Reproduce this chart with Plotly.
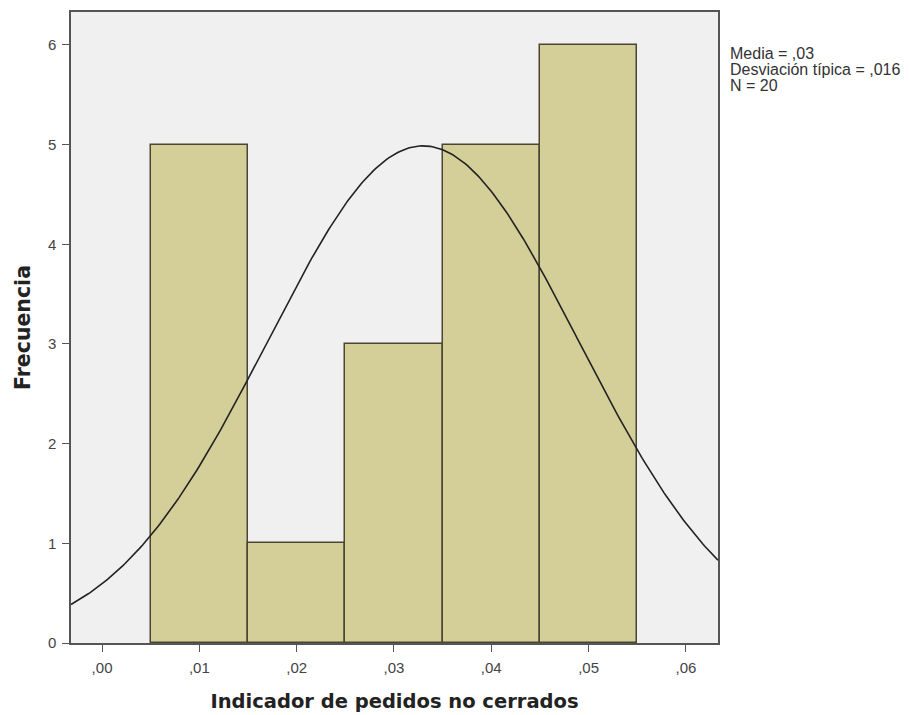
import numpy as np
import plotly.graph_objects as go

bin_centers = [0.01, 0.02, 0.03, 0.04, 0.05]
counts = [5, 1, 3, 5, 6]
bin_width = 0.01
mean = 0.033
sd = 0.016
n = 20
x_ticks = [0.00, 0.01, 0.02, 0.03, 0.04, 0.05, 0.06]
x_tick_labels = [",00", ",01", ",02", ",03", ",04", ",05", ",06"]
y_ticks = [0, 1, 2, 3, 4, 5, 6]
stats_lines = ["Media = ,03", "Desviación típica = ,016", "N = 20"]

xr = [-0.00319, 0.0633]
xs = np.linspace(xr[0], xr[1], 300)
ys = n * bin_width / (sd * np.sqrt(2 * np.pi)) * np.exp(-0.5 * ((xs - mean) / sd) ** 2)

fig = go.Figure()
fig.add_trace(go.Bar(x=bin_centers, y=counts, width=[bin_width] * len(counts),
                     marker=dict(color="#d4cf99", line=dict(color="#4a4632", width=1.5)),
                     hoverinfo="skip"))
fig.add_trace(go.Scatter(x=xs, y=ys, mode="lines", line=dict(color="#222222", width=1.6),
                         hoverinfo="skip"))

fig.update_layout(
    width=910, height=715,
    margin=dict(l=63, r=200, t=2, b=80),
    paper_bgcolor="white", plot_bgcolor="#f0f0f0",
    showlegend=False, bargap=0,
    font=dict(family="Liberation Sans, Arial", color="#333333"),
)
fig.update_xaxes(range=xr, tickvals=x_ticks, ticktext=x_tick_labels, ticks="outside",
                 ticklen=7, tickcolor="#555555", showgrid=False, zeroline=False,
                 showline=True, linecolor="#555555", linewidth=1.5, mirror=True,
                 tickfont=dict(size=15, color="#444444"), ticklabelstandoff=3,
                 title=dict(text="<b>Indicador de pedidos no cerrados</b>",
                            font=dict(family="DejaVu Sans", size=19.5, color="#222222"),
                            standoff=20))
fig.update_yaxes(range=[0, 6.33], tickvals=y_ticks, ticks="outside", ticklen=7,
                 tickcolor="#555555", showgrid=False, zeroline=False,
                 showline=True, linecolor="#555555", linewidth=1.5, mirror=True,
                 tickfont=dict(size=15, color="#444444"), ticklabelstandoff=3,
                 title=dict(text="<b>Frecuencia</b>",
                            font=dict(family="DejaVu Sans", size=20.5, color="#222222"),
                            standoff=12))
for i, line in enumerate(stats_lines):
    fig.add_annotation(xref="paper", yref="paper", x=1.0,
                       y=(643 - 52 - 16 * i) / 633,
                       xanchor="left", yanchor="middle", xshift=10, align="left",
                       showarrow=False, text=line,
                       font=dict(family="Liberation Sans, Arial", size=16, color="#333333"))
fig.write_html("out.html")
